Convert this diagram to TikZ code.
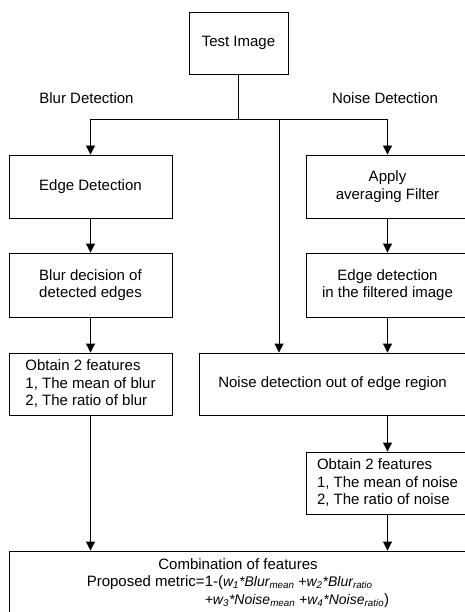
\documentclass[tikz,border=0pt]{standalone}
\usepackage{fontspec}
\setmainfont{Liberation Sans}
\usetikzlibrary{arrows.meta,positioning,calc}
\newcommand{\msub}[1]{\textsubscript{#1}}
\newcommand{\mvar}{\itshape\fontsize{14}{17.5}\selectfont}

\begin{document}
\begin{tikzpicture}[x=1pt, y=-1pt,
    font=\fontsize{15}{17.5}\selectfont,
    box/.style={draw, line width=0.9pt, minimum width=163pt, minimum height=63pt, align=center, inner sep=0pt},
    arr/.style={line width=0.9pt, -{Triangle[length=9pt,width=9pt]}},
    wire/.style={line width=0.9pt}]
    \useasboundingbox (0,0) rectangle (464,612);

    % Input and branch titles
    \node [box, minimum width=99pt, minimum height=62pt] (test) at (238.5,43) {Test Image};
    \node (blurlbl) at (86.5,98) {Blur Detection};
    \node (noiselbl) at (385,98) {Noise Detection};

    % Blur branch
    \node [box] (edge) at (90.5,186.5) {Edge Detection};
    \node [box, minimum height=64pt] (blurdec) at (90.5,285) {Blur decision of\\detected edges};
    \node [box, minimum height=62pt, align=left] (blurfeat) at (90.5,384) {Obtain 2 features\\1, The mean of blur\\2, The ratio of blur};

    % Noise branch
    \node [box] (apply) at (387.5,186.5) {Apply\\averaging Filter};
    \node [box, minimum height=64pt] (filtedge) at (387.5,285) {Edge detection\\in the filtered image};
    \node [box, minimum width=267pt, minimum height=62pt] (noisedet) at (332.5,384) {Noise detection out of edge region};
    \node [box, minimum height=62pt, align=left] (noisefeat) at (387.5,483) {Obtain 2 features\\1, The mean of noise\\2, The ratio of noise};

    % Combination
    \node [box, minimum width=458pt, minimum height=64pt] (comb) at (238,583) {%
        \begin{tabular}{@{}l@{}}
        \multicolumn{1}{@{}c@{}}{Combination of features}\\
        Proposed metric=1-({\mvar w\msub{1}*Blur\msub{mean} +w\msub{2}*Blur\msub{ratio}}\\
        \hphantom{Proposed metric=}{\mvar +w\msub{3}*Noise\msub{mean} +w\msub{4}*Noise\msub{ratio}})
        \end{tabular}};

    % Split under the test image
    \coordinate (split) at (238.5,119);
    \coordinate (mid) at (279,119);
    \draw [wire] (test.south) -- (split);
    \draw [arr] (split) -| (edge.north);
    \draw [arr] (split) -| (apply.north);
    \draw [arr] (mid) -- (mid |- noisedet.north);

    % Chains
    \foreach \a/\b in {edge/blurdec, blurdec/blurfeat, apply/filtedge} {
        \draw [arr] (\a.south) -- (\b.north);
    }
    \draw [arr] (filtedge.south) -- (filtedge.south |- noisedet.north);
    \draw [arr] (noisefeat.north |- noisedet.south) -- (noisefeat.north);
    \draw [arr] (blurfeat.south) -- (blurfeat.south |- comb.north);
    \draw [arr] (noisefeat.south) -- (noisefeat.south |- comb.north);
\end{tikzpicture}
\end{document}
